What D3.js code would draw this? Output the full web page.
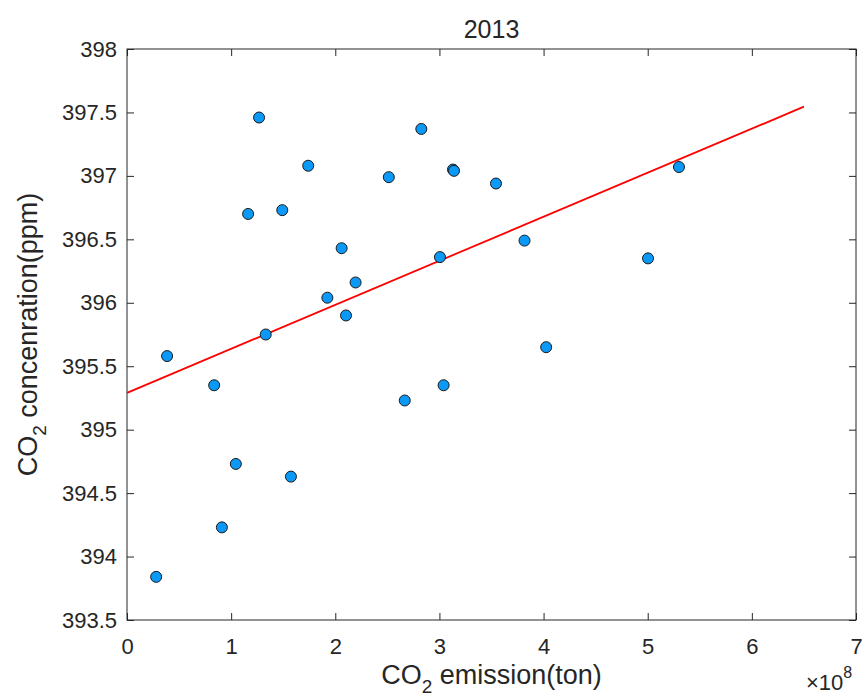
<!DOCTYPE html>
<html>
<head>
<meta charset="utf-8">
<script src="https://cdn.jsdelivr.net/npm/d3@7"></script>
<style>
  body { margin: 0; background: #fff; }
  svg { font-family: Arial, "Liberation Sans", Helvetica, sans-serif; }
  .axis path { display: none; }
  .axis line { stroke: #262626; }
  .axis text { fill: #262626; font-size: 22px; }
</style>
</head>
<body>
<div id="chart"></div>
<script>
/* CONSTANTS AND GLOBALS */
const width = 862,
  height = 698,
  margin = { top: 49, bottom: 78, left: 127, right: 6 },
  radius = 5.5;

// values (emission in tons, concentration in ppm)
const emission = [
  0.28e8, 0.385e8, 0.837e8, 0.911e8, 1.045e8, 1.163e8, 1.268e8, 1.332e8, 1.491e8,
  1.574e8, 1.74e8, 1.924e8, 2.061e8, 2.103e8, 2.195e8, 2.514e8, 2.667e8, 2.826e8,
  3.005e8, 3.04e8, 3.13e8, 3.14e8, 3.543e8, 3.817e8, 4.025e8, 5.003e8, 5.30e8
];
const concentration = [
  393.84, 395.58, 395.35, 394.23, 394.73, 396.70, 397.46, 395.75, 396.73,
  394.63, 397.08, 396.04, 396.43, 395.90, 396.16, 396.99, 395.23, 397.37,
  396.36, 395.35, 397.05, 397.04, 396.94, 396.49, 395.65, 396.35, 397.07
];

// fitted line
const fitRange = [0, 6.5e8];
const fitIntercept = 395.29;
const fitSlope = 0.347e-8; // ppm per ton

const xTicks = [0, 1e8, 2e8, 3e8, 4e8, 5e8, 6e8, 7e8];
const yTicks = [393.5, 394, 394.5, 395, 395.5, 396, 396.5, 397, 397.5, 398];
const title = "2013";

const data = emission.map((d, i) => ({ x: d, y: concentration[i] }));

/* SCALES */
const xScale = d3.scaleLinear()
  .domain([0, 7e8])
  .range([margin.left, width - margin.right]);

const yScale = d3.scaleLinear()
  .domain([393.5, 398])
  .range([height - margin.bottom, margin.top]);

const svg = d3.select("#chart")
  .append("svg")
  .attr("width", width)
  .attr("height", height);

/* AXES - ticks point inward on all four sides */
svg.append("g")
  .attr("class", "axis x-axis")
  .attr("transform", `translate(0,${height - margin.bottom})`)
  .call(d3.axisBottom(xScale).tickValues(xTicks).tickSize(-7).tickPadding(18)
    .tickFormat(d => d / 1e8));

svg.append("g")
  .attr("class", "axis")
  .attr("transform", `translate(0,${margin.top})`)
  .call(d3.axisTop(xScale).tickValues(xTicks).tickSize(-7).tickFormat(""));

svg.append("g")
  .attr("class", "axis y-axis")
  .attr("transform", `translate(${margin.left},0)`)
  .call(d3.axisLeft(yScale).tickValues(yTicks).tickSize(-7).tickPadding(10)
    .tickFormat(d => String(d)));

svg.append("g")
  .attr("class", "axis")
  .attr("transform", `translate(${width - margin.right},0)`)
  .call(d3.axisRight(yScale).tickValues(yTicks).tickSize(-7).tickFormat(""));

// box
svg.append("rect")
  .attr("x", xScale(0))
  .attr("y", yScale(398))
  .attr("width", xScale(7e8) - xScale(0))
  .attr("height", yScale(393.5) - yScale(398))
  .attr("fill", "none")
  .attr("stroke", "#262626")
  .attr("stroke-width", 1);

/* FIT LINE */
const line = d3.line()
  .x(d => xScale(d))
  .y(d => yScale(fitIntercept + fitSlope * d));

svg.append("path")
  .datum(fitRange)
  .attr("d", line)
  .attr("fill", "none")
  .attr("stroke", "#ff0000")
  .attr("stroke-width", 1.8);

/* POINTS */
svg.selectAll("circle.dot")
  .data(data)
  .join("circle")
  .attr("class", "dot")
  .attr("cx", d => xScale(d.x))
  .attr("cy", d => yScale(d.y))
  .attr("r", radius)
  .attr("fill", "#0b99f7")
  .attr("stroke", "#1a1a1a")
  .attr("stroke-width", 1);

/* TEXT */
const midX = (xScale(0) + xScale(7e8)) / 2;

svg.append("text")
  .attr("x", midX)
  .attr("y", 38)
  .attr("text-anchor", "middle")
  .attr("fill", "#262626")
  .attr("font-size", 25)
  .text(title);

const xLabel = svg.append("text")
  .attr("x", midX)
  .attr("y", 684)
  .attr("text-anchor", "middle")
  .attr("fill", "#262626")
  .attr("font-size", 27);
xLabel.append("tspan").text("CO");
xLabel.append("tspan").attr("font-size", 19).attr("dy", 9).text("2");
xLabel.append("tspan").attr("dy", -9).text(" emission(ton)");

const yLabel = svg.append("text")
  .attr("transform", `translate(37,${(yScale(393.5) + yScale(398)) / 2}) rotate(-90)`)
  .attr("text-anchor", "middle")
  .attr("fill", "#262626")
  .attr("font-size", 27);
yLabel.append("tspan").text("CO");
yLabel.append("tspan").attr("font-size", 19).attr("dy", 9).text("2");
yLabel.append("tspan").attr("dy", -9).text(" concenration(ppm)");

// exponent note
const expo = svg.append("text")
  .attr("x", 806)
  .attr("y", 690)
  .attr("fill", "#262626")
  .attr("font-size", 22);
expo.append("tspan").text("×10");
expo.append("tspan").attr("font-size", 16).attr("dy", -12).text("8");
</script>
</body>
</html>
